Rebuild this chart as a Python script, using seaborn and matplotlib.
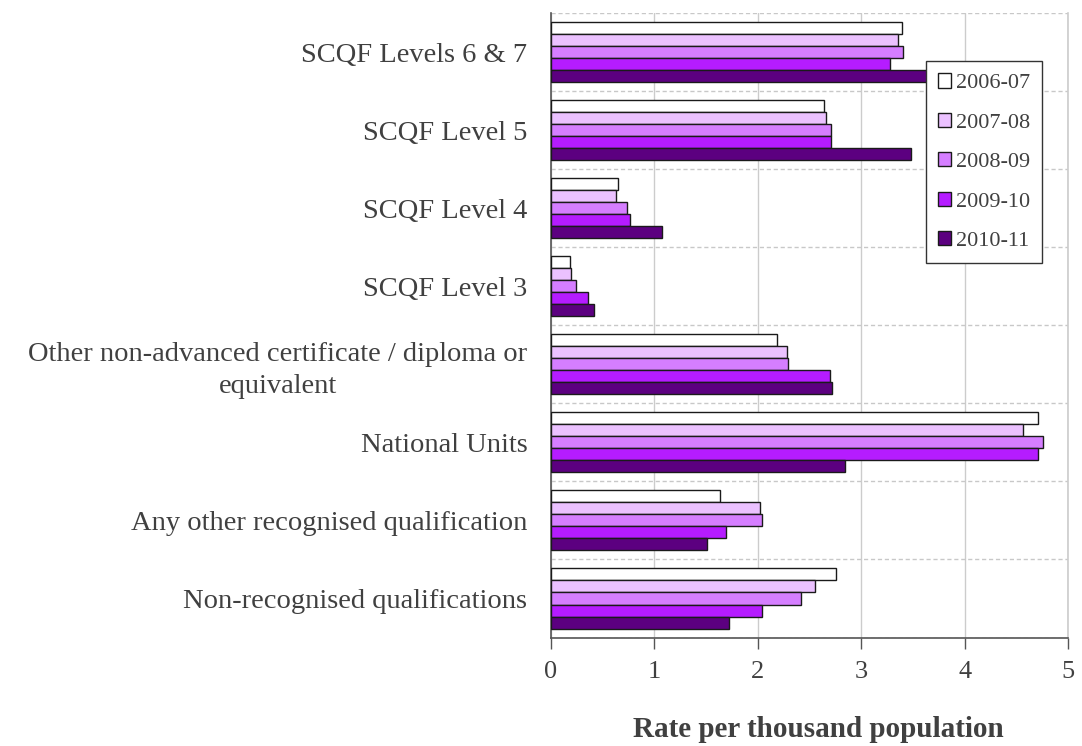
import matplotlib
matplotlib.use("Agg")
import matplotlib.pyplot as plt
import numpy as np
import pandas as pd
import seaborn as sns

# Qualification categories (top to bottom) and academic years
categories = [
    "SCQF Levels 6 & 7",
    "SCQF Level 5",
    "SCQF Level 4",
    "SCQF Level 3",
    "Other non-advanced certificate / diploma or\nequivalent",
    "National Units",
    "Any other recognised qualification",
    "Non-recognised qualifications",
]
years = ["2006-07", "2007-08", "2008-09", "2009-10", "2010-11"]

# Rate per thousand population, one list per year (same order as categories)
rate_2006_07 = [3.39, 2.64, 0.65, 0.18, 2.19, 4.71, 1.63, 2.76]
rate_2007_08 = [3.36, 2.66, 0.63, 0.19, 2.28, 4.56, 2.02, 2.55]
rate_2008_09 = [3.40, 2.71, 0.74, 0.24, 2.29, 4.76, 2.04, 2.42]
rate_2009_10 = [3.28, 2.71, 0.76, 0.36, 2.70, 4.71, 1.69, 2.04]
rate_2010_11 = [3.72, 3.48, 1.07, 0.42, 2.72, 2.84, 1.51, 1.72]

year_colors = ["#FFFFFF", "#EBC1FF", "#D57EFF", "#B51CFF", "#5C0080"]

series = [rate_2006_07, rate_2007_08, rate_2008_09, rate_2009_10, rate_2010_11]
df = pd.DataFrame(
    [(c, y, v) for y, vals in zip(years, series) for c, v in zip(categories, vals)],
    columns=["category", "year", "rate"],
)

sns.set_theme(style="white")
plt.rcParams["font.family"] = ["Liberation Serif", "DejaVu Serif"]
text_color = "#404040"

fig = plt.figure(figsize=(10.82, 7.46), dpi=100)
ax = fig.add_axes([0.5092, 0.1454, 0.4779, 0.8372])

sns.barplot(
    data=df, x="rate", y="category", hue="year",
    order=categories, hue_order=years,
    palette=year_colors, orient="h", width=0.77,
    edgecolor="#1a1a1a", linewidth=1.0, saturation=1.0,
    errorbar=None, ax=ax, zorder=3,
)

ax.set_xlim(0, 5)
ax.set_ylim(len(categories) - 0.5, -0.5)
ax.set_xticks(range(0, 6))
ax.set_xticklabels([str(i) for i in range(0, 6)], fontsize=19, color=text_color)
ax.tick_params(axis="x", direction="out", length=8, width=1, color="#555555", pad=9,
               bottom=True)
ax.tick_params(axis="y", length=0, pad=17)
for lab in ax.get_yticklabels():
    lab.set_fontsize(20.5)
    lab.set_color(text_color)
    lab.set_multialignment("center")
    lab.set_linespacing(1.35)

# Vertical solid grid and dashed separators between categories
ax.set_yticks(np.arange(-0.5, len(categories), 1.0), minor=True)
ax.grid(axis="x", which="major", color="#CCCCCC", linewidth=1.0, zorder=0)
ax.grid(axis="y", which="minor", color="#C8C8C8", linestyle=(0, (3, 2)), linewidth=1.0, zorder=0)
ax.grid(axis="y", which="major", visible=False)
ax.tick_params(axis="y", which="minor", length=0)
ax.set_axisbelow(True)

ax.spines["top"].set_visible(False)
ax.spines["right"].set_color("#CCCCCC")
ax.spines["left"].set_color("#555555")
ax.spines["bottom"].set_color("#555555")
for s in ("left", "bottom", "right"):
    ax.spines[s].set_linewidth(1.2)

ax.set_ylabel("")
ax.set_xlabel("Rate per thousand population", fontsize=21, fontweight="bold",
              color=text_color, labelpad=24)
ax.xaxis.label.set_x(0.518)

handles, labels = ax.get_legend_handles_labels()
leg = ax.legend(
    handles, labels, loc="upper left",
    bbox_to_anchor=(0.8555, 0.918), bbox_transform=fig.transFigure,
    borderaxespad=0, fontsize=16, frameon=True, fancybox=False,
    handlelength=0.6, handleheight=0.6, handletextpad=0.2,
    labelspacing=0.88, borderpad=0.55, labelcolor=text_color,
)
leg.get_frame().set_edgecolor("#333333")
leg.get_frame().set_linewidth(1.0)
leg.get_frame().set_facecolor("white")
leg.get_frame().set_alpha(1.0)
leg.set_zorder(10)

fig.savefig("out.png", dpi=100)
